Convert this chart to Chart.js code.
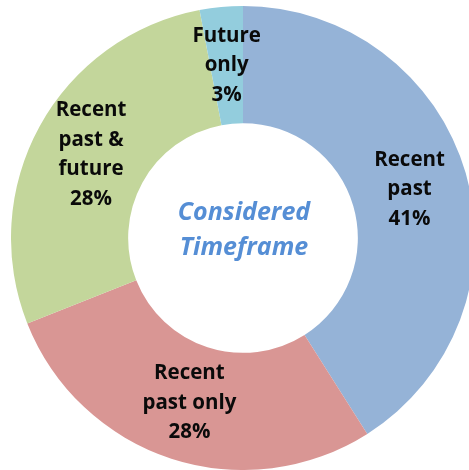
<!DOCTYPE html>
<html>
<head>
<meta charset="utf-8">
<script src="https://cdn.jsdelivr.net/npm/chart.js@4/dist/chart.umd.min.js"></script>
<style>
  html, body { margin: 0; padding: 0; background: #fff; overflow: hidden; }
  #wrap { position: relative; width: 469px; height: 470px; overflow: hidden; }
  #chart { position: absolute; left: 11px; top: 6px; }
</style>
</head>
<body>
<div id="wrap"><canvas id="chart" width="464" height="464"></canvas></div>
<script>
// ---------- DATA ----------
const categories = [["Recent", "past"], ["Recent", "past only"], ["Recent", "past &", "future"], ["Future", "only"]];
const shares = [41, 28, 28, 3];
const colors = ["#95B3D7", "#D99694", "#C3D69B", "#93CDDD"];
const centerTitle = ["Considered", "Timeframe"];

// ---------- LABEL PLUGIN ----------
const sliceLabels = {
  id: "sliceLabels",
  afterDatasetsDraw(chart) {
    const ctx = chart.ctx;
    const meta = chart.getDatasetMeta(0);
    ctx.save();
    ctx.textAlign = "center";
    ctx.textBaseline = "middle";

    // slice labels
    ctx.fillStyle = "#0a0a0a";
    ctx.font = "bold 20.5px 'Open Sans'";
    const lineH = 29.5;
    meta.data.forEach((arc, i) => {
      const pos = arc.getCenterPoint();
      const lines = categories[i].concat([shares[i] + "%"]);
      const top = pos.y - (lines.length - 1) * lineH / 2;
      lines.forEach((t, j) => ctx.fillText(t, pos.x, top + j * lineH));
    });

    // center text
    const cx = (chart.chartArea.left + chart.chartArea.right) / 2;
    const cy = (chart.chartArea.top + chart.chartArea.bottom) / 2;
    ctx.fillStyle = "#558ED5";
    ctx.font = "italic bold 25px 'Open Sans'";
    ctx.fillText(centerTitle[0], cx + 1, cy - 25);
    ctx.fillText(centerTitle[1], cx + 1, cy + 10);
    ctx.restore();
  }
};

// ---------- CHART ----------
new Chart(document.getElementById("chart"), {
  type: "doughnut",
  data: {
    labels: categories.map(c => c.join(" ")),
    datasets: [{
      data: shares,
      backgroundColor: colors,
      borderWidth: 0,
    }],
  },
  options: {
    responsive: false,
    animation: false,
    cutout: "49.5%",
    layout: { padding: 0 },
    plugins: {
      legend: { display: false },
      tooltip: { enabled: false },
    },
  },
  plugins: [sliceLabels],
});
</script>
</body>
</html>
